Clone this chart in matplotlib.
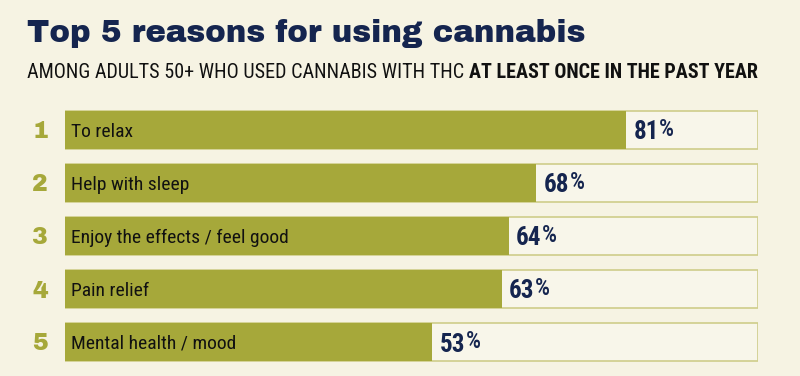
import matplotlib.pyplot as plt

reasons = ["To relax", "Help with sleep", "Enjoy the effects / feel good",
           "Pain relief", "Mental health / mood"]
shares = [81, 68, 64, 63, 53]
ranks = ["1", "2", "3", "4", "5"]

BG = "#f6f3e3"
OLIVE = "#a6a83a"
NAVY = "#15254f"
COND = "Roboto Condensed"
HEAVY = "Archivo Black"

fig = plt.figure(figsize=(8, 3.76), dpi=100, facecolor=BG)
ax = fig.add_axes([65 / 800, 1 - 368.5 / 376, 693 / 800, 265 / 376])
ax.set_facecolor(BG)

y = list(range(len(reasons)))
ax.barh(y, [100] * len(y), height=0.7, color="#f8f6ea", edgecolor="#cfcd8a", linewidth=1.2)
ax.barh(y, shares, height=0.7, color=OLIVE, linewidth=0)

for i, (lab, v, r) in enumerate(zip(reasons, shares, ranks)):
    ax.annotate(lab, (0, i), xytext=(4, 0), textcoords="offset points",
                va="center_baseline", ha="left", fontsize=14, family=COND, color="#111111")
    num = ax.annotate(str(v), (v, i), xytext=(5.5, 0), textcoords="offset points",
                      va="center_baseline", ha="left", fontsize=18, family=COND,
                      fontweight="bold", color=NAVY)
    # smaller raised percent sign next to the number
    ax.annotate("%", (1, 1), xycoords=num, xytext=(0, 1.5), textcoords="offset points",
                va="top", ha="left", fontsize=17, family=COND, fontweight="medium",
                color=NAVY)
    ax.annotate(r, (0, i), xytext=(-18, 0), textcoords="offset points",
                va="center_baseline", ha="center", fontsize=17, family=HEAVY,
                color=OLIVE)

ax.set_xlim(0, 100)
ax.set_ylim(len(y) - 0.5, -0.5)
ax.axis("off")

fig.text(27 / 800, 1 - 42 / 376, "Top 5 reasons for using cannabis", fontsize=22.2,
         color=NAVY, family=HEAVY, va="baseline")
t1 = fig.text(27 / 800, 1 - 78 / 376, "AMONG ADULTS 50+ WHO USED CANNABIS WITH THC ",
              fontsize=14.5, family=COND, color="#111111", va="baseline")
fig.canvas.draw()
bb = t1.get_window_extent()
fig.text(bb.x1 / 800, 1 - 78 / 376, "AT LEAST ONCE IN THE PAST YEAR", fontsize=14.5,
         family=COND, fontweight="bold", color="#111111", va="baseline")

fig.savefig("out.png", dpi=100, facecolor=BG)
